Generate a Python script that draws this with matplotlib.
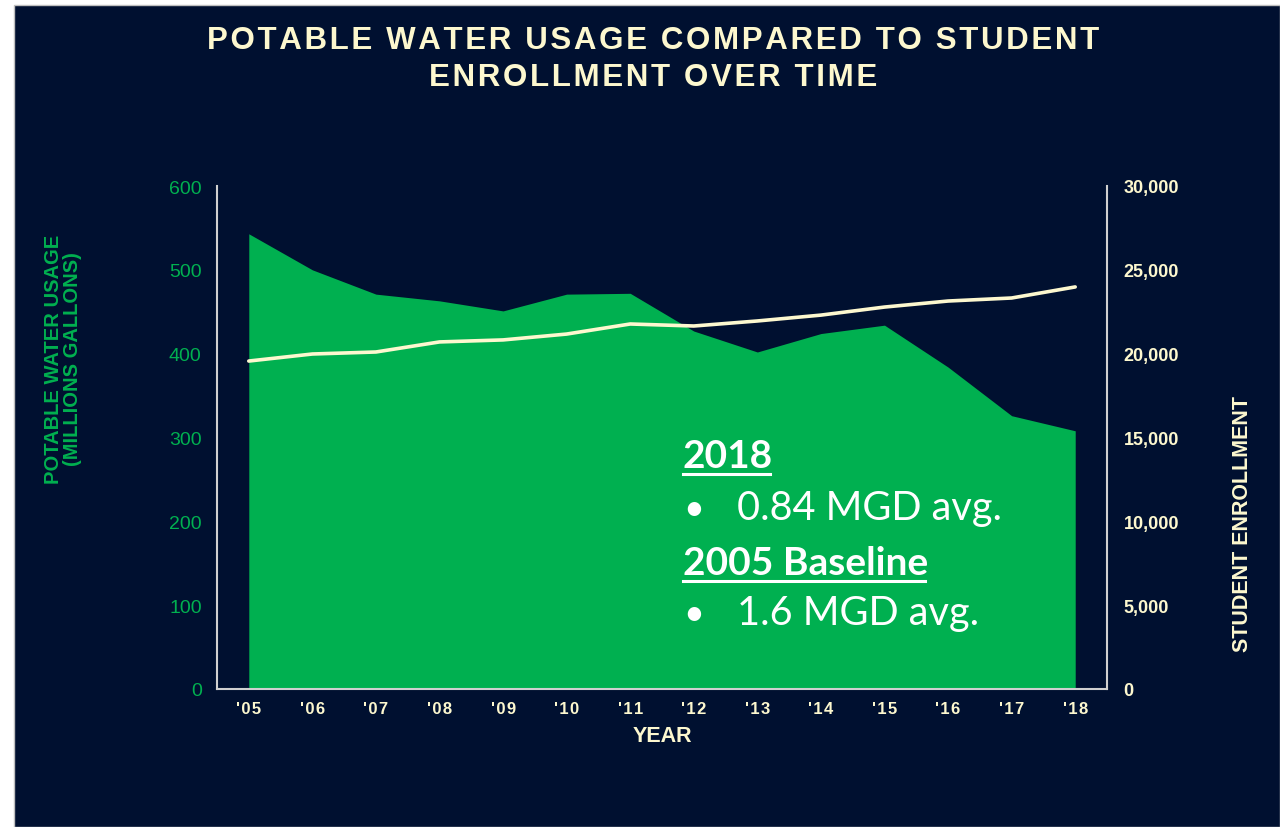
import numpy as np
import matplotlib
matplotlib.use("Agg")
import matplotlib.pyplot as plt
from matplotlib.patches import Rectangle
from matplotlib.lines import Line2D
from matplotlib.ticker import FuncFormatter

# Data

years = ["'05", "'06", "'07", "'08", "'09", "'10", "'11",
         "'12", "'13", "'14", "'15", "'16", "'17", "'18"]

water_usage = [543, 500, 471, 463, 451, 471, 472,
               427, 402, 424, 434, 384, 326, 308]

enrollment = [19560, 19980, 20100, 20700, 20820, 21170, 21770,
              21650, 21950, 22300, 22780, 23140, 23320, 23980]

left_ticks = [0, 100, 200, 300, 400, 500, 600]
right_ticks = [0, 5000, 10000, 15000, 20000, 25000, 30000]

# Colours

navy = "#001030"
green = "#00b050"
cream = "#fdf8cf"
spine_grey = "#d0d0d0"

plt.rcParams["font.family"] = ["Liberation Sans", "DejaVu Sans"]

HAIR = "\u200a"


def spaced(s):
    # fake letter spacing with hair spaces
    return HAIR.join(s)


fig = plt.figure(figsize=(12.8, 8.28), dpi=100, facecolor="white")

# navy slide panel with thin grey edge
fig.patches.append(Rectangle((14 / 1280, 0), 1 - 14 / 1280, 1 - 6 / 828,
                             transform=fig.transFigure, facecolor=navy,
                             edgecolor="#bfbfbf", linewidth=1.0, zorder=-10))

ax = fig.add_axes([217 / 1280, 1 - 690 / 828,
                   (1107 - 217) / 1280, (690 - 187) / 828])
ax.set_facecolor("none")

x = np.arange(len(years))

# water usage area
ax.fill_between(x, 0, water_usage, color=green, linewidth=0, zorder=1)

ax.set_xlim(-0.5, len(years) - 0.5)
ax.set_ylim(0, 600)
ax.set_yticks(left_ticks)
ax.set_xticks(x)
ax.set_xticklabels([spaced(y) for y in years])
ax.tick_params(axis="y", length=0, pad=11, labelsize=14, labelcolor=green)
ax.tick_params(axis="x", length=0, pad=9, labelsize=12, labelcolor=cream)
for lbl in ax.get_xticklabels():
    lbl.set_fontweight("bold")

for side in ["top", "right"]:
    ax.spines[side].set_visible(False)
for side in ["left", "bottom"]:
    ax.spines[side].set_color(spine_grey)
    ax.spines[side].set_linewidth(1.5)

# enrollment line on the right axis
ax2 = ax.twinx()
ax2.plot(x, enrollment, color=cream, linewidth=2.6, solid_capstyle="round",
         zorder=3)
ax2.set_ylim(0, 30000)
ax2.set_yticks(right_ticks)
ax2.yaxis.set_major_formatter(FuncFormatter(lambda v, p: f"{int(v):,}"))
ax2.tick_params(axis="y", length=0, pad=12, labelsize=13, labelcolor=cream)
for lbl in ax2.get_yticklabels():
    lbl.set_fontweight("bold")
for side in ["top", "left", "bottom"]:
    ax2.spines[side].set_visible(False)
ax2.spines["right"].set_color(spine_grey)
ax2.spines["right"].set_linewidth(1.5)

# Title

fig.text(653 / 1280, 1 - 41 / 828,
         spaced("POTABLE WATER USAGE COMPARED TO STUDENT"),
         ha="center", va="center", fontsize=22.5, fontweight="bold",
         color=cream)
fig.text(653 / 1280, 1 - 78 / 828, spaced("ENROLLMENT OVER TIME"),
         ha="center", va="center", fontsize=22.5, fontweight="bold",
         color=cream)

# Axis labels

fig.text(63 / 1280, 1 - 359 / 828,
         "POTABLE WATER USAGE\n(MILLIONS GALLONS)",
         rotation=90, ha="center", va="center", multialignment="center",
         fontsize=14.5, fontweight="bold", color=green, linespacing=0.95)
fig.text(1243 / 1280, 1 - 524 / 828, "STUDENT ENROLLMENT",
         rotation=90, ha="center", va="center",
         fontsize=15.5, fontweight="bold", color=cream)
fig.text(662 / 1280, 1 - 737 / 828, "YEAR", ha="center", va="center",
         fontsize=15.5, fontweight="bold", color=cream)

# Annotation block inside the green area

note_font = ["Lato", "DejaVu Sans"]
headers = []
h1 = fig.text(683 / 1280, 1 - 468 / 828, "2018", fontsize=28,
              fontweight="bold", color="white", family=note_font,
              va="baseline")
headers.append(h1)
fig.text(683 / 1280, 1 - 520 / 828, "\u2022", fontsize=26, color="white",
         family=note_font, va="baseline")
fig.text(737 / 1280, 1 - 520 / 828, "0.84 MGD avg.", fontsize=28.5,
         color="white", family=note_font, va="baseline")
h2 = fig.text(683 / 1280, 1 - 575 / 828, "2005 Baseline", fontsize=28,
              fontweight="bold", color="white", family=note_font,
              va="baseline")
headers.append(h2)
fig.text(683 / 1280, 1 - 625 / 828, "\u2022", fontsize=26, color="white",
         family=note_font, va="baseline")
fig.text(737 / 1280, 1 - 625 / 828, "1.6 MGD avg.", fontsize=28.5,
         color="white", family=note_font, va="baseline")

# underline the headers
fig.canvas.draw()
renderer = fig.canvas.get_renderer()
for t in headers:
    bb = t.get_window_extent(renderer).transformed(fig.transFigure.inverted())
    y_line = t.get_position()[1] - 7 / 828
    fig.add_artist(Line2D([bb.x0, bb.x1 - 3 / 1280], [y_line, y_line],
                          transform=fig.transFigure, color="white",
                          linewidth=2.2))

fig.savefig("out.png", dpi=100, facecolor=fig.get_facecolor())
